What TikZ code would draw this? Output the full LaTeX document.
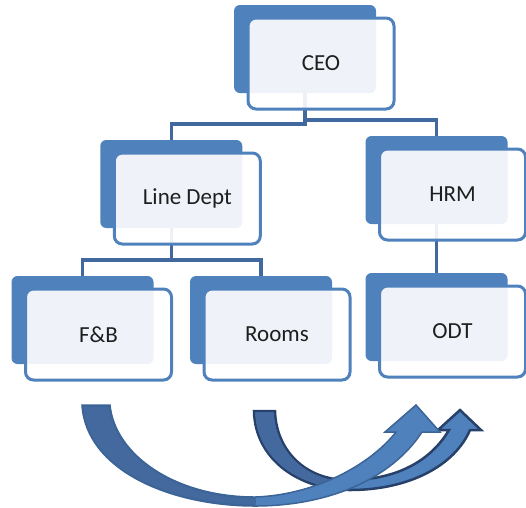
\documentclass[tikz,border=0pt]{standalone}
\usepackage{fontspec}
\setmainfont{Carlito}
\definecolor{accent}{HTML}{4F81BD}
\definecolor{accentdark}{HTML}{43699F}
\definecolor{linkblue}{HTML}{4169A0}
\definecolor{arrowedge}{HTML}{3C6496}
\definecolor{navy}{HTML}{27416A}
\definecolor{inktext}{HTML}{1E1E1E}
\tikzset{
  backbox/.style={fill=accent, rounded corners=6pt, minimum width=142pt,
    minimum height=88pt, inner sep=0pt},
  frontbox/.style={draw=accent, line width=3pt, fill=white, fill opacity=0.91,
    text opacity=1, rounded corners=8pt, minimum width=146pt,
    minimum height=91pt, inner sep=0pt, text=inktext,
    font=\fontsize{23}{27}\selectfont},
  link/.style={draw=linkblue, line width=3.5pt},
  lightband/.style={fill=accent},
  darkband/.style={fill=accentdark},
}
\begin{document}
\begin{tikzpicture}[x=1pt,y=-1pt]
\useasboundingbox (0,0) rectangle (526,507);

% shaded back plates
\node[backbox] (ceoB)   at (305,49)    {};
\node[backbox] (lineB)  at (171.3,184) {};
\node[backbox] (fbB)    at (82.5,320)  {};
\node[backbox] (roomsB) at (261,320)   {};
\node[backbox] (hrmB)   at (436.5,180) {};
\node[backbox] (odtB)   at (436.5,317) {};

% reporting lines
\draw[link] (ceoB.south) -- ++(0,31) -| (lineB.north);
\draw[link] (ceoB.south) -- ++(0,27) -| (hrmB.north);
\draw[link] (lineB.south) -- ++(0,32) -| (fbB.north);
\draw[link] (lineB.south) -- ++(0,32) -| (roomsB.north);
\draw[link] (hrmB.south) -- (odtB.north);

% front cards with labels
\node[frontbox] (ceo)   at ([shift={(16,14.5)}]ceoB.center)   {CEO};
\node[frontbox] (line)  at ([shift={(16,14.5)}]lineB.center)  {Line Dept};
\node[frontbox] (fb)    at ([shift={(16,14.5)}]fbB.center)    {F\&B};
\node[frontbox] (rooms) at ([shift={(16,14.5)}]roomsB.center) {Rooms};
\node[frontbox] (hrm)   at ([shift={(16,14.5)}]hrmB.center)   {HRM};
\node[frontbox] (odt)   at ([shift={(16,14.5)}]odtB.center)   {ODT};

% curved arrow from Rooms
\path[lightband, draw=navy, line width=2.5pt, line join=miter]
  (254,411) .. controls (255,460) and (300,490) .. (350,490)
  .. controls (410,490) and (455,465) .. (470,430)
  -- (481,430) -- (460,410) -- (438,430) -- (449,430)
  .. controls (430,462) and (395,480) .. (348,480)
  .. controls (305,480) and (276,450) .. (275,411) -- cycle;
\path[darkband]
  (255.3,412.3) .. controls (256.3,459) and (300,488.7) .. (350,488.7)
  -- (348,481.3) .. controls (305,481.3) and (274.7,450) .. (273.7,412.3) -- cycle;

% curved arrow from F&B
\path[lightband, draw=arrowedge, line width=1.5pt, line join=miter]
  (82,405) .. controls (86,470) and (170,506) .. (255,506)
  .. controls (330,506) and (392,478) .. (422,432)
  -- (440,432) -- (416,405) -- (385,432) -- (396,432)
  .. controls (370,465) and (315,495) .. (255,497)
  .. controls (175,497) and (115,455) .. (110,405) -- cycle;
\path[darkband, draw=arrowedge, line width=1pt]
  (83,406) .. controls (87,470) and (170,505) .. (255,505)
  -- (255,498) .. controls (175,498) and (114,455) .. (109,406) -- cycle;
\end{tikzpicture}
\end{document}
